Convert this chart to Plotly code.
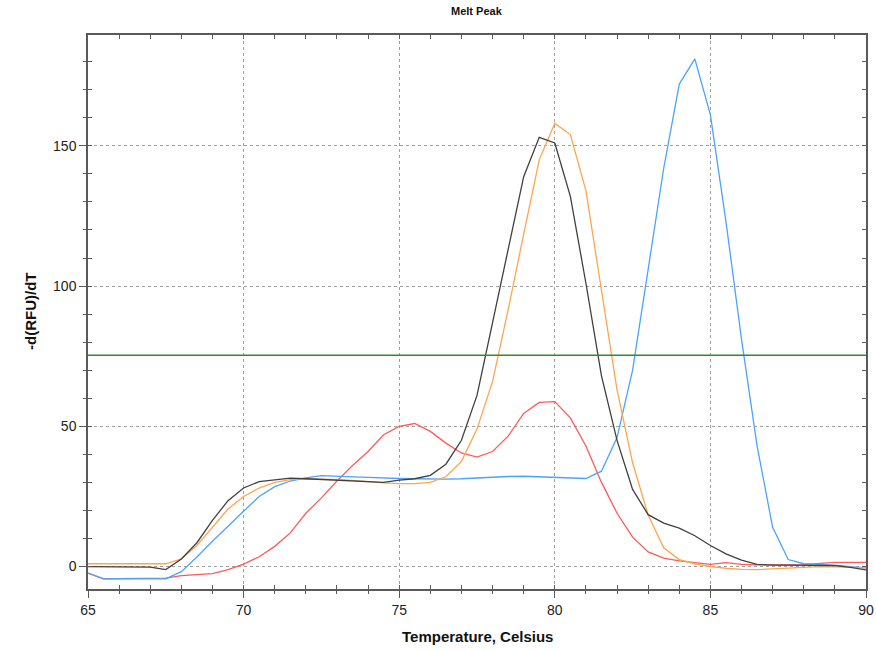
import plotly.graph_objects as go

temperature = [65.0, 65.5, 66.0, 66.5, 67.0, 67.5, 68.0, 68.5, 69.0, 69.5,
               70.0, 70.5, 71.0, 71.5, 72.0, 72.5, 73.0, 73.5, 74.0, 74.5,
               75.0, 75.5, 76.0, 76.5, 77.0, 77.5, 78.0, 78.5, 79.0, 79.5,
               80.0, 80.5, 81.0, 81.5, 82.0, 82.5, 83.0, 83.5, 84.0, 84.5,
               85.0, 85.5, 86.0, 86.5, 87.0, 87.5, 88.0, 88.5, 89.0, 89.5, 90.0]

black_series = [0, 0, 0, 0, -0.2, -1.1, 2.7, 8.5, 16.5, 23.5,
                28, 30.3, 31, 31.5, 31.3, 31, 30.7, 30.6, 30.3, 30,
                30.8, 31.3, 32.5, 36.5, 45, 61, 87, 113, 139, 153,
                151, 132, 101, 68, 45, 27.5, 18.5, 15.5, 13.7, 11,
                7.5, 4.5, 2.3, 0.8, 0.5, 0.5, 0.5, 0.4, 0.3, -0.3, -1.2]

orange_series = [1, 1, 1, 1, 1, 1, 2.7, 7.5, 14, 20.5,
                 25, 28, 30, 31, 31.3, 31.2, 31, 30.7, 30.2, 29.8,
                 29.6, 29.6, 30, 32, 37.5, 49, 66, 91.5, 118.5, 145,
                 158, 154, 134, 98, 63, 37, 18.4, 6.7, 2.5, 1,
                 0, -0.6, -1, -1.1, -0.9, -0.6, -0.3, 0, 0, -0.2, -0.5]

blue_series = [-2.3, -4.4, -4.3, -4.3, -4.3, -4.4, -1.8, 3.4, 9, 14.5,
               19.7, 25, 28.5, 30.5, 31.6, 32.4, 32.3, 32, 31.8, 31.5,
               31.4, 31.3, 31.2, 31.2, 31.3, 31.6, 31.9, 32.1, 32.2, 32,
               31.7, 31.5, 31.4, 34, 46, 70, 106, 142, 172, 181,
               161, 123, 81, 43, 14, 2.5, 1, 0.8, 0.5, 0, -0.5]

red_series = [-2.3, -4.4, -4.3, -4.3, -4.3, -4.1, -3.2, -2.9, -2.5, -1.1,
              0.9, 3.5, 7.2, 12, 19, 24.5, 30.5, 36, 41, 47,
              50, 51, 48.2, 44, 40.5, 39, 41, 46.5, 54.6, 58.5,
              58.8, 53, 43, 30, 19, 10.5, 5.2, 3, 2, 1.4,
              0.8, 1.4, 0.8, 0.6, 0.5, 0.6, 0.7, 1.1, 1.5, 1.5, 1.5]

threshold = 75.3

x_ticks = [65, 70, 75, 80, 85, 90]
y_ticks = [0, 50, 100, 150]
x_range = [65, 90]
y_range = [-8, 189.5]

FONT = "Liberation Sans, Arial, sans-serif"
AXIS_COLOR = "#5a5a5a"
GRID_COLOR = "#a0a0a0"

fig = go.Figure()

series = [
    (red_series, "#ff5a5a"),
    (blue_series, "#4aa3ff"),
    (orange_series, "#ffa54f"),
    (black_series, "#404040"),
]
for vals, col in series:
    fig.add_trace(go.Scatter(x=temperature, y=vals, mode="lines",
                             line=dict(color=col, width=1.3), showlegend=False,
                             hoverinfo="skip"))

fig.add_trace(go.Scatter(x=x_range, y=[threshold, threshold], mode="lines",
                         line=dict(color="#2e8b2e", width=1.5), showlegend=False,
                         hoverinfo="skip"))

# invisible trace to make overlay axes render (inside ticks on all sides)
fig.add_trace(go.Scatter(x=[x_range[0]], y=[y_range[0]], xaxis="x2", yaxis="y2",
                         mode="markers", marker=dict(opacity=0), showlegend=False,
                         hoverinfo="skip"))

fig.update_layout(
    width=876, height=651,
    margin=dict(l=88, r=10, t=35, b=62, autoexpand=False),
    paper_bgcolor="white", plot_bgcolor="white",
    font=dict(family=FONT, color="#222"),
    xaxis=dict(range=x_range, tickvals=x_ticks, ticks="outside", ticklen=7,
               tickwidth=1.3, tickcolor=AXIS_COLOR, automargin=False,
               minor=dict(dtick=1, ticks="outside", ticklen=3, tickcolor=AXIS_COLOR,
                          tickwidth=1.2, showgrid=False),
               showline=True, linecolor=AXIS_COLOR, linewidth=1.5,
               showgrid=True, gridcolor=GRID_COLOR, griddash="dot", gridwidth=1,
               zeroline=False, tickfont=dict(size=14, color="#222", family=FONT)),
    yaxis=dict(range=y_range, tickvals=y_ticks, ticks="outside", ticklen=7,
               tickwidth=1.3, tickcolor=AXIS_COLOR, automargin=False,
               minor=dict(dtick=10, ticks="outside", ticklen=3, tickcolor=AXIS_COLOR,
                          tickwidth=1.2, showgrid=False),
               showline=True, linecolor=AXIS_COLOR, linewidth=1.5,
               showgrid=True, gridcolor=GRID_COLOR, griddash="dot", gridwidth=1,
               zeroline=False, tickfont=dict(size=14, color="#222", family=FONT)),
    xaxis2=dict(overlaying="x", anchor="y2", range=x_range, tickvals=x_ticks,
                ticks="inside", ticklen=4, tickcolor=AXIS_COLOR, tickwidth=1.3,
                automargin=False,
                minor=dict(dtick=1, ticks="inside", ticklen=4, tickcolor=AXIS_COLOR),
                mirror="ticks", showline=True, linecolor=AXIS_COLOR, linewidth=1.5,
                showticklabels=False, showgrid=False, zeroline=False),
    yaxis2=dict(overlaying="y", anchor="x2", range=y_range, tickvals=y_ticks,
                ticks="inside", ticklen=4, tickcolor=AXIS_COLOR, tickwidth=1.3,
                automargin=False,
                minor=dict(dtick=10, ticks="inside", ticklen=4, tickcolor=AXIS_COLOR),
                mirror="ticks", showline=True, linecolor=AXIS_COLOR, linewidth=1.5,
                showticklabels=False, showgrid=False, zeroline=False),
    annotations=[
        dict(text="<b>Melt Peak</b>", xref="paper", yref="paper", x=0.5, y=1,
             xanchor="center", yanchor="bottom", yshift=16, showarrow=False,
             font=dict(size=11, color="#111", family=FONT)),
        dict(text="<b>Temperature, Celsius</b>", xref="paper", yref="paper",
             x=0.5, y=0, xanchor="center", yanchor="top", yshift=-37,
             showarrow=False, font=dict(size=15, color="#111", family=FONT)),
        dict(text="<b>-d(RFU)/dT</b>", xref="paper", yref="paper",
             x=0, y=0.5, xanchor="center", yanchor="middle", xshift=-58,
             textangle=-90, showarrow=False,
             font=dict(size=15, color="#111", family=FONT)),
    ],
)

fig.write_html("out.html")
